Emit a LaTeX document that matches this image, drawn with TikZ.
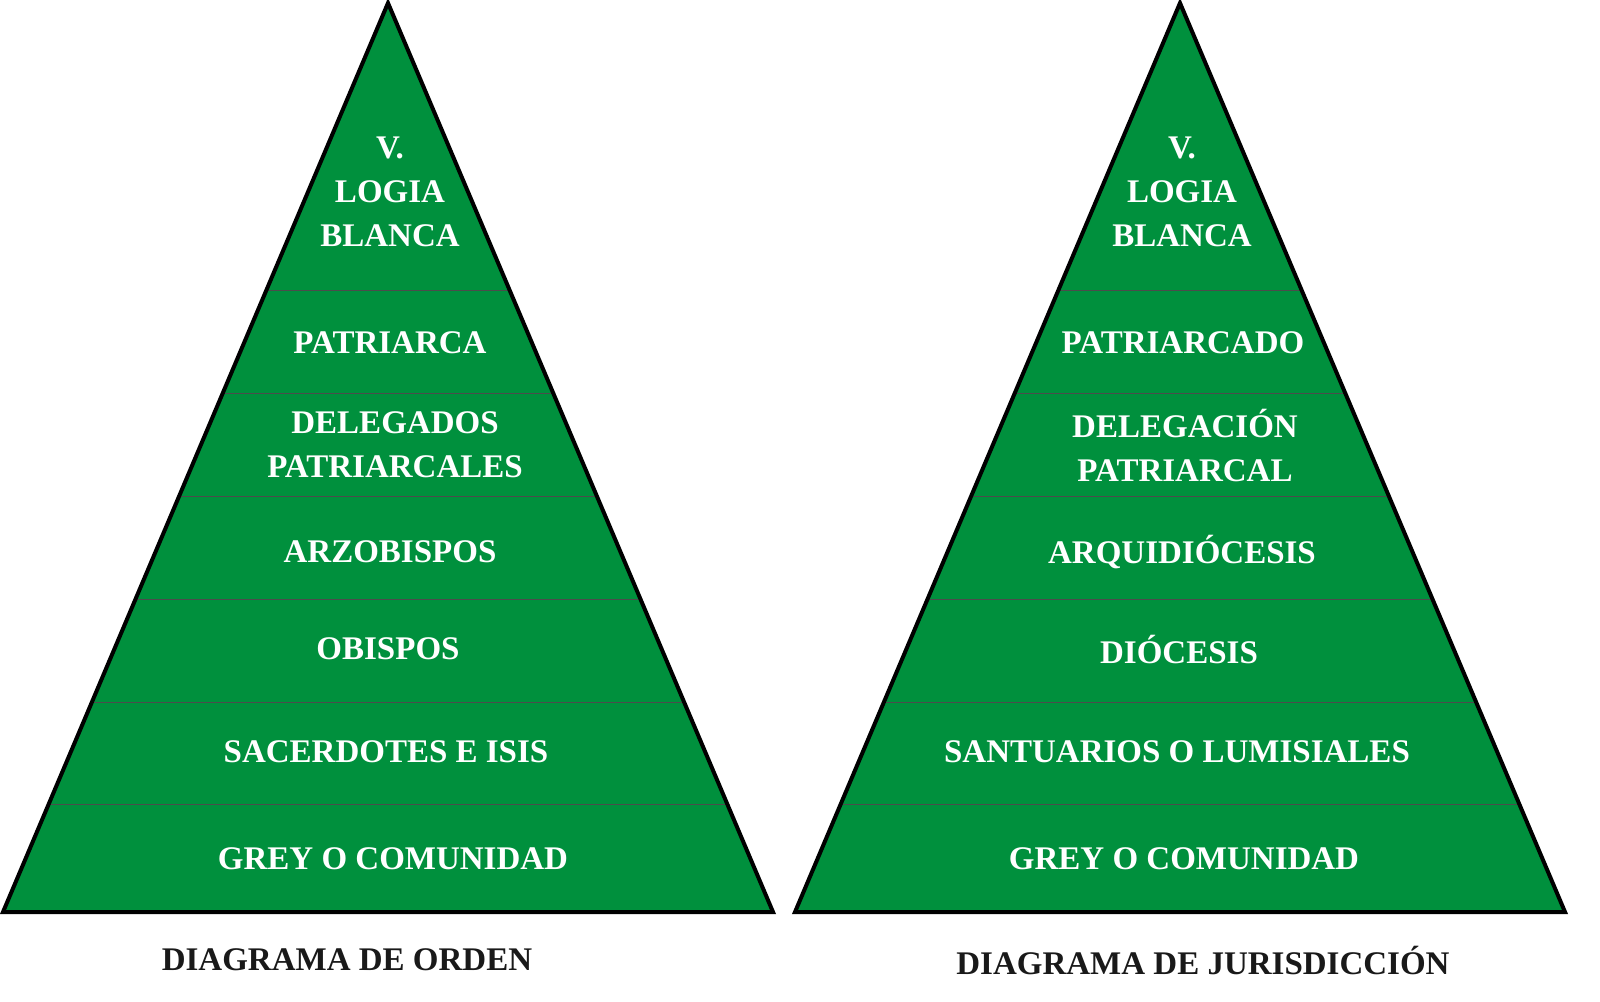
\documentclass[tikz,border=0pt]{standalone}
\usepackage{fontspec}
\setmainfont{Liberation Serif}
\begin{document}
\begin{tikzpicture}[x=1pt,y=-1pt,
  lbl/.style={text=white,font=\fontsize{33}{44}\selectfont\bfseries,align=center},
  captxt/.style={text=black!90,font=\fontsize{33}{36}\selectfont\bfseries},
  band/.style={draw=black!70,line width=0.8pt}]
\definecolor{pg}{HTML}{00903D}
\useasboundingbox (0,0) rectangle (1600,1001);
\foreach \dx/\nm in {0/L,792/R}{
  \begin{scope}[xshift=\dx]
  \fill[pg] (388,3) -- (3,912) -- (773,912) -- cycle;
  \begin{scope}
   \clip (388,3) -- (3,912) -- (773,912) -- cycle;
   \foreach \yy in {290,393,496,599,702,804} \draw[band] (0,\yy) -- (780,\yy);
  \end{scope}
  \draw[line width=4pt,line join=miter] (388,3) -- (3,912) -- (773,912) -- cycle;
  \end{scope}}
\node[lbl] (l1) at (390,192) {V.\\LOGIA\\BLANCA};
\node[lbl] (l2) at (390,343) {PATRIARCA};
\node[lbl] (l3) at (395,445) {DELEGADOS\\PATRIARCALES};
\node[lbl] (l4) at (390,552) {ARZOBISPOS};
\node[lbl] (l5) at (388,649) {OBISPOS};
\node[lbl] (l6) at (386,752) {SACERDOTES E ISIS};
\node[lbl] (l7) at (393,859) {GREY O COMUNIDAD};
\node[lbl] (r1) at (1182,192) {V.\\LOGIA\\BLANCA};
\node[lbl] (r2) at (1183,343) {PATRIARCADO};
\node[lbl] (r3) at (1185,445) {DELEGACIÓN\\PATRIARCAL};
\node[lbl] (r4) at (1182,552) {ARQUIDIÓCESIS};
\node[lbl] (r5) at (1179,649) {DIÓCESIS};
\node[lbl] (r6) at (1177,752) {SANTUARIOS O LUMISIALES};
\node[lbl] (r7) at (1184,859) {GREY O COMUNIDAD};
\node[captxt] (c1) at (347,960) {DIAGRAMA DE ORDEN};
\node[captxt] (c2) at (1203,960) {DIAGRAMA DE JURISDICCIÓN};
\end{tikzpicture}
\end{document}
